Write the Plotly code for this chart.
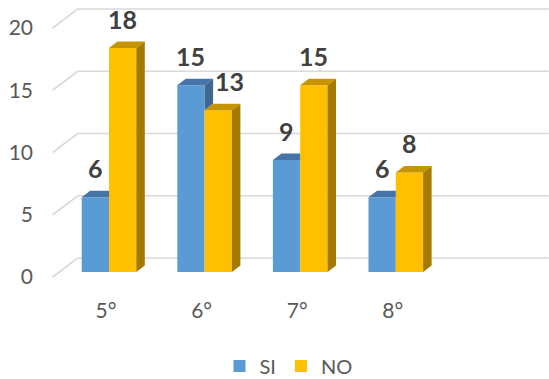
import plotly.graph_objects as go

# ---------------- data ----------------
CATEGORIES = ["5°", "6°", "7°", "8°"]
SI = [6, 15, 9, 6]
NO = [18, 13, 15, 8]
Y_TICKS = [0, 5, 10, 15, 20]
SERIES_NAMES = ["SI", "NO"]

# ---------------- styling / geometry ----------------
W, H = 549, 379
FONT = "Lato"
PX_X = 95.6          # pixels per category
PX_Y = 12.45         # pixels per value unit
ML, MR, MT, MB = 40, 0, 0, 89
X0_PX, Y0_PX = 109, 272  # pixel of category 0 / value 0 (bar front plane)

x_range = [(ML - X0_PX) / PX_X, (W - MR - X0_PX) / PX_X]
y_range = [(Y0_PX - (H - MB)) / PX_Y, (Y0_PX - MT) / PX_Y]

BAR_W = 27.3 / PX_X
BAR_DX = 8.5 / PX_X
BAR_DY = 6.5 / PX_Y
GRID_FRONT_DX, GRID_FRONT_DY = -6.6 / PX_X, -5 / PX_Y
GRID_BACK_DX, GRID_BACK_DY = 18.4 / PX_X, 14 / PX_Y
WALL_X = -0.52
RIGHT_END_X = 4.6

COL = {
    "SI": dict(front="#5B9BD5", top="#4674A6", side="#3E6792"),
    "NO": dict(front="#FFC000", top="#C59400", side="#A47A00"),
}

xs = list(range(len(CATEGORIES)))
fig = go.Figure()

# front faces (real bars)
fig.add_trace(go.Bar(x=xs, y=SI, name=SERIES_NAMES[0], width=BAR_W, offset=-BAR_W,
                     marker=dict(color=COL["SI"]["front"], line=dict(width=0)),
                     hoverinfo="skip"))
fig.add_trace(go.Bar(x=xs, y=NO, name=SERIES_NAMES[1], width=BAR_W, offset=0,
                     marker=dict(color=COL["NO"]["front"], line=dict(width=0)),
                     hoverinfo="skip"))


def face_trace(px, py, color):
    return go.Scatter(x=px, y=py, mode="lines", fill="toself", fillcolor=color,
                      line=dict(width=0, color=color), hoverinfo="skip",
                      showlegend=False)


# SI top faces (clipped where the NO front face covers them)
tx, ty = [], []
for i, (s, n) in enumerate(zip(SI, NO)):
    l, r = i - BAR_W, i
    if n >= s + BAR_DY:
        tx += [l, r, r, l + BAR_DX, l, None]
        ty += [s, s, s + BAR_DY, s + BAR_DY, s, None]
    else:
        tx += [l, r, r + BAR_DX, l + BAR_DX, l, None]
        ty += [s, s, s + BAR_DY, s + BAR_DY, s, None]
fig.add_trace(face_trace(tx, ty, COL["SI"]["top"]))

# SI side faces (only the part above the NO bar)
sx, sy = [], []
for i, (s, n) in enumerate(zip(SI, NO)):
    if s > n:
        r = i
        sx += [r, r, r + BAR_DX, r + BAR_DX, r, None]
        sy += [n, s, s + BAR_DY, n + BAR_DY, n, None]
if sx:
    fig.add_trace(face_trace(sx, sy, COL["SI"]["side"]))

# NO top and side faces
tx, ty, sx, sy = [], [], [], []
for i, n in enumerate(NO):
    l, r = i, i + BAR_W
    tx += [l, r, r + BAR_DX, l + BAR_DX, l, None]
    ty += [n, n, n + BAR_DY, n + BAR_DY, n, None]
    sx += [r, r, r + BAR_DX, r + BAR_DX, r, None]
    sy += [0, n, n + BAR_DY, BAR_DY, 0, None]
fig.add_trace(face_trace(tx, ty, COL["NO"]["top"]))
fig.add_trace(face_trace(sx, sy, COL["NO"]["side"]))

# gridlines (3D wall style), below traces
shapes = []
for v in Y_TICKS:
    fx, fy = WALL_X + GRID_FRONT_DX, v + GRID_FRONT_DY
    bx, by = WALL_X + GRID_BACK_DX, v + GRID_BACK_DY
    shapes.append(dict(type="path", xref="x", yref="y", layer="below",
                       path=f"M{fx},{fy} L{bx},{by} L{RIGHT_END_X},{by}",
                       line=dict(color="#D9D9D9", width=1.6)))

# data labels
annotations = []
for i, (s, n) in enumerate(zip(SI, NO)):
    annotations.append(dict(x=i - BAR_W / 2, y=s, text=f"<b>{s}</b>", showarrow=False,
                            yanchor="bottom", yshift=12,
                            font=dict(family=FONT, size=25, color="#404040")))
    annotations.append(dict(x=i + BAR_W / 2, y=n, text=f"<b>{n}</b>", showarrow=False,
                            yanchor="bottom", yshift=12, xshift=11 if s > n else 0,
                            font=dict(family=FONT, size=25, color="#404040")))

fig.update_layout(
    width=W, height=H,
    margin=dict(l=ML, r=MR, t=MT, b=MB, autoexpand=False),
    paper_bgcolor="white", plot_bgcolor="white",
    barmode="overlay",
    shapes=shapes,
    annotations=annotations,
    font=dict(family=FONT, color="#595959"),
    legend=dict(orientation="h", x=0.5 - 6 / (W - ML - MR), xanchor="center",
                y=(H - MB - 366) / (H - MT - MB),
                yanchor="middle", font=dict(family=FONT, size=20, color="#595959"),
                itemwidth=30, bgcolor="rgba(0,0,0,0)"),
    xaxis=dict(range=x_range, tickvals=xs, ticktext=CATEGORIES, showgrid=False,
               zeroline=False, showline=False, ticks="", ticklabelshift=-3,
               ticklabelstandoff=6, automargin=False,
               tickfont=dict(family=FONT, size=21, color="#595959"),
               fixedrange=True),
    yaxis=dict(range=y_range, tickvals=Y_TICKS, showgrid=False, zeroline=False,
               showline=False, ticks="", ticklabelshift=5, ticklabelstandoff=6,
               automargin=False,
               tickfont=dict(family=FONT, size=21, color="#595959"), fixedrange=True),
)

fig.write_html("out.html", config={"displayModeBar": False},
               post_script="document.body.style.margin='0';document.body.style.overflow='hidden';")
